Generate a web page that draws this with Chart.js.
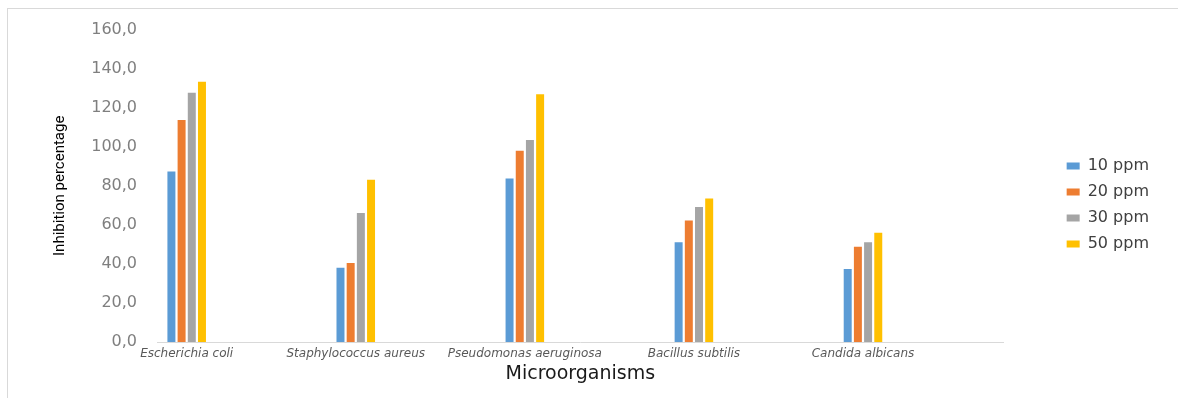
<!DOCTYPE html>
<html>
<head>
<meta charset="utf-8">
<title>Inhibition percentage by microorganism</title>
<script src="https://cdn.jsdelivr.net/npm/chart.js@4/dist/chart.umd.min.js"></script>
<style>
  html, body { margin: 0; padding: 0; background: #ffffff; }
  #wrap { position: relative; width: 1178px; height: 398px; overflow: hidden; background: #ffffff; }
  #frame { position: absolute; left: 7px; top: 8px; width: 1200px; height: 420px; border: 1px solid #d9d9d9; box-sizing: border-box; }
  #box { position: absolute; left: 0; top: 0; width: 1178px; height: 398px; }
</style>
</head>
<body>
<div id="wrap">
  <div id="frame"></div>
  <div id="box"><canvas id="chart"></canvas></div>
</div>
<script>
// Categories on the x axis
const categories = ['Escherichia coli', 'Staphylococcus aureus', 'Pseudomonas aeruginosa', 'Bacillus subtilis', 'Candida albicans'];
// Series (concentrations) and their values, in category order
const seriesNames = ['10 ppm', '20 ppm', '30 ppm', '50 ppm'];
const ppm10 = [87.3, 38.0, 83.8, 51.1, 37.4];
const ppm20 = [113.7, 40.4, 97.9, 62.2, 48.8];
const ppm30 = [127.7, 66.1, 103.5, 69.2, 51.1];
const ppm50 = [133.3, 83.1, 126.9, 73.5, 56.0];
// Value axis ticks
const yTicks = [0, 20, 40, 60, 80, 100, 120, 140, 160];

const seriesValues = [ppm10, ppm20, ppm30, ppm50];
const seriesColors = ['#5B9BD5', '#ED7D31', '#A5A5A5', '#FFC000'];

const datasets = seriesNames.map((name, s) => ({
  label: name,
  data: seriesValues[s].map((v, i) => ({ x: i, y: v })),
  backgroundColor: seriesColors[s],
  borderWidth: 0,
  categoryPercentage: 0.241,
  barPercentage: 0.784
}));

new Chart(document.getElementById('chart'), {
  type: 'bar',
  data: { datasets },
  options: {
    responsive: true,
    maintainAspectRatio: false,
    animation: false,
    layout: { padding: { left: 0, top: 25, right: 19, bottom: 13 } },
    plugins: {
      tooltip: { enabled: false },
      legend: {
        position: 'right',
        align: 'center',
        labels: {
          boxWidth: 13,
          boxHeight: 7,
          padding: 10,
          color: '#404040',
          font: { family: '"DejaVu Sans", sans-serif', size: 16 }
        }
      }
    },
    scales: {
      x: {
        type: 'linear',
        offset: false,
        min: -0.1756,
        max: 4.832,
        grid: { display: false, drawTicks: false, offset: false },
        border: { display: true, color: '#d9d9d9', width: 1 },
        afterBuildTicks: (scale) => { scale.ticks = categories.map((_, i) => ({ value: i })); },
        afterFit: (scale) => { scale.height = 43; },
        ticks: {
          autoSkip: false,
          maxRotation: 0,
          padding: 5,
          color: '#595959',
          font: { family: '"DejaVu Sans", sans-serif', size: 12, style: 'italic' },
          callback: (v) => categories[v]
        },
        title: {
          display: true,
          text: 'Microorganisms',
          color: '#1a1a1a',
          padding: { top: 0, bottom: 0 },
          font: { family: '"DejaVu Sans", sans-serif', size: 19 }
        }
      },
      y: {
        min: 0,
        max: 160,
        grid: { display: false, drawTicks: false },
        border: { display: false },
        afterBuildTicks: (scale) => { scale.ticks = yTicks.map(v => ({ value: v })); },
        afterFit: (scale) => { scale.width = 157; },
        ticks: {
          padding: 20,
          color: '#7f7f7f',
          font: { family: '"DejaVu Sans", sans-serif', size: 16 },
          callback: (v) => v.toFixed(1).replace('.', ',')
        },
        title: {
          display: true,
          text: 'Inhibition percentage',
          color: '#000000',
          padding: { top: 51, bottom: 0 },
          font: { family: 'Roboto, "Liberation Sans", sans-serif', size: 15 }
        }
      },
      // empty spacer axis that keeps the legend away from the plot
      spacer: {
        type: 'linear',
        position: 'right',
        display: true,
        grid: { display: false, drawTicks: false },
        border: { display: false },
        ticks: { display: false },
        afterFit: (scale) => { scale.width = 53; }
      }
    }
  }
});
</script>
</body>
</html>
